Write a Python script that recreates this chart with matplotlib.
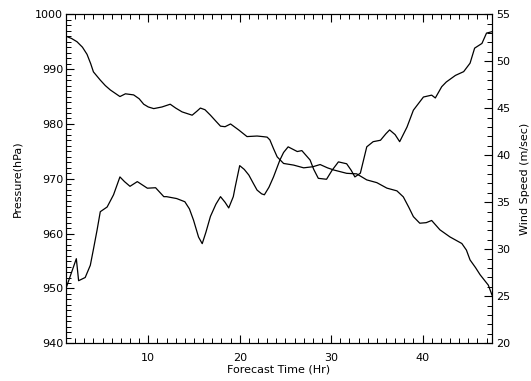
import matplotlib
matplotlib.use("Agg")
import matplotlib.pyplot as plt
from matplotlib.ticker import MultipleLocator

# forecast hour / central pressure (hPa)
p_hour = [1.0, 1.6, 2.2, 2.8, 3.3, 3.7, 4.0, 4.75, 5.3, 5.85, 6.9, 7.5, 8.4, 9.0,
          9.5, 10.0, 10.6, 11.5, 12.4, 13.0, 13.7, 14.8, 15.3, 15.7, 16.2, 16.8,
          17.4, 17.9, 18.4, 19.0, 19.9, 20.8, 21.9, 22.5, 23.0, 23.3, 23.7, 24.1,
          24.8, 25.9, 27.0, 28.0, 28.8, 29.6, 30.3, 31.7, 32.8, 33.9, 35.0, 36.1,
          37.2, 37.9, 38.5, 39.0, 39.7, 40.4, 41.0, 41.9, 43.0, 44.3, 44.8, 45.2,
          45.8, 46.3, 47.2, 47.6]
pressure = [996.0, 995.6, 995.0, 994.0, 992.7, 991.0, 989.5, 988.0, 987.0, 986.2,
            985.0, 985.5, 985.3, 984.6, 983.6, 983.1, 982.8, 983.1, 983.6, 982.9,
            982.2, 981.6, 982.3, 982.9, 982.6, 981.6, 980.5, 979.6, 979.5, 980.0,
            978.9, 977.7, 977.8, 977.7, 977.6, 977.1, 975.5, 974.0, 972.8, 972.5,
            972.0, 972.2, 972.6, 972.0, 971.6, 971.0, 970.9, 969.8, 969.3, 968.3,
            967.8, 966.7, 964.8, 963.1, 961.9, 962.0, 962.4, 960.7, 959.4, 958.2,
            957.0, 955.2, 953.8, 952.5, 950.6, 948.8]

# forecast hour / max wind speed (m/sec)
w_hour = [1.0, 2.13, 2.38, 3.1, 3.66, 4.0, 4.4, 4.75, 5.5, 6.2, 6.9, 7.4, 8.0,
          8.8, 9.9, 10.8, 11.7, 12.0, 13.1, 14.0, 14.5, 14.95, 15.5, 15.9, 16.3,
          16.8, 17.4, 17.9, 18.4, 18.8, 19.3, 19.5, 20.0, 20.5, 21.0, 21.5, 21.9,
          22.4, 22.7, 23.2, 23.7, 24.4, 24.8, 25.3, 26.3, 26.8, 27.7, 28.1, 28.6,
          29.5, 30.1, 30.8, 31.7, 32.2, 32.6, 33.2, 33.9, 34.6, 35.4, 36.0, 36.4,
          37.0, 37.5, 38.3, 39.0, 40.1, 41.0, 41.4, 42.1, 42.6, 43.6, 44.5, 45.2,
          45.7, 46.5, 47.0, 47.6]
wind = [25.85, 29.0, 26.66, 27.0, 28.3, 30.0, 32.05, 34.0, 34.5, 35.8, 37.7,
        37.2, 36.7, 37.2, 36.5, 36.55, 35.6, 35.6, 35.4, 35.06, 34.3, 33.1, 31.3,
        30.6, 31.8, 33.5, 34.8, 35.6, 35.0, 34.4, 35.6, 36.6, 38.9, 38.5, 37.9,
        37.0, 36.3, 35.9, 35.8, 36.6, 37.7, 39.5, 40.3, 40.9, 40.4, 40.5, 39.5,
        38.5, 37.55, 37.45, 38.4, 39.3, 39.1, 38.4, 37.7, 38.1, 40.9, 41.45, 41.6,
        42.3, 42.7, 42.2, 41.45, 43.0, 44.8, 46.2, 46.4, 46.1, 47.3, 47.8, 48.5,
        48.9, 49.8, 51.4, 51.9, 53.0, 53.15]

plt.rcParams["font.family"] = ["DejaVu Sans"]
plt.rcParams["font.size"] = 8

fig = plt.figure(figsize=(5.31, 3.81), dpi=100)
ax = fig.add_axes([66 / 531, 1 - 343.3 / 381, (492 - 66) / 531, (343.3 - 14.3) / 381])
ax2 = ax.twinx()

ax.plot(p_hour, pressure, color="black", lw=0.9)
ax2.plot(w_hour, wind, color="black", lw=0.9)

ax.set_xlim(1, 47.6)
ax.set_ylim(940, 1000)
ax2.set_ylim(20, 55)

ax.xaxis.set_major_locator(MultipleLocator(10))
ax.xaxis.set_minor_locator(MultipleLocator(1))
ax.yaxis.set_major_locator(MultipleLocator(10))
ax.yaxis.set_minor_locator(MultipleLocator(1))
ax2.yaxis.set_major_locator(MultipleLocator(5))
ax2.yaxis.set_minor_locator(MultipleLocator(1))

ax.tick_params(axis="x", which="both", direction="in", top=True, pad=7)
ax.tick_params(axis="y", which="both", direction="in", right=False, pad=2)
ax.tick_params(which="major", length=6, width=0.8)
ax.tick_params(which="minor", length=3.5, width=0.7)
ax2.tick_params(axis="y", which="both", direction="in", pad=3)
ax2.tick_params(which="major", length=6, width=0.8)
ax2.tick_params(which="minor", length=3.5, width=0.7)

ax.set_xlabel("Forecast Time (Hr)", labelpad=1)
ax.set_ylabel("Pressure(hPa)", labelpad=9)
ax2.set_ylabel("Wind Speed (m/sec)", rotation=90, labelpad=7)

fig.savefig("out.png", dpi=100)
